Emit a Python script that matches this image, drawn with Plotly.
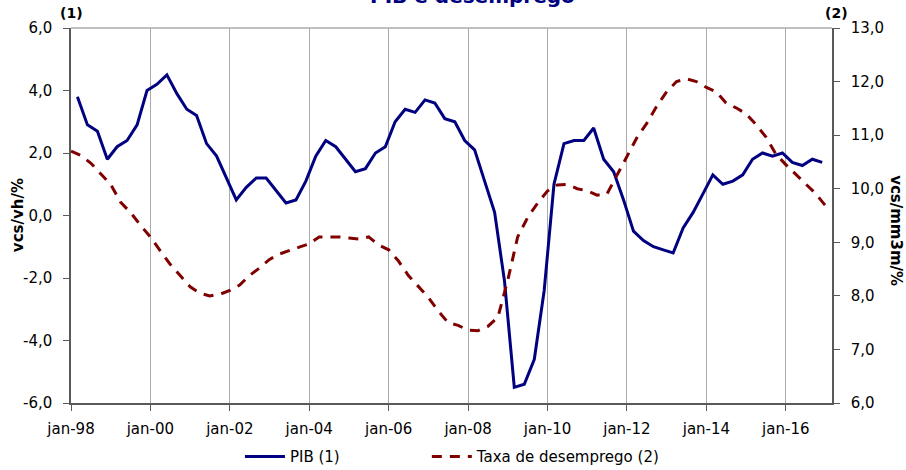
import pandas as pd
import plotly.graph_objects as go

# PIB, quarterly (mar-98 .. dec-16), left axis
pib = [3.8, 2.9, 2.7, 1.8,      # 1998
       2.2, 2.4, 2.9, 4.0,      # 1999
       4.2, 4.5, 3.9, 3.4,      # 2000
       3.2, 2.3, 1.9, 1.2,      # 2001
       0.5, 0.9, 1.2, 1.2,      # 2002
       0.8, 0.4, 0.5, 1.1,      # 2003
       1.9, 2.4, 2.2, 1.8,      # 2004
       1.4, 1.5, 2.0, 2.2,      # 2005
       3.0, 3.4, 3.3, 3.7,      # 2006
       3.6, 3.1, 3.0, 2.4,      # 2007
       2.1, 1.1, 0.1, -2.1,     # 2008
       -5.5, -5.4, -4.6, -2.4,  # 2009
       1.0, 2.3, 2.4, 2.4,      # 2010
       2.8, 1.8, 1.4, 0.5,      # 2011
       -0.5, -0.8, -1.0, -1.1,  # 2012
       -1.2, -0.4, 0.1, 0.7,    # 2013
       1.3, 1.0, 1.1, 1.3,      # 2014
       1.8, 2.0, 1.9, 2.0,      # 2015
       1.7, 1.6, 1.8, 1.7]      # 2016

# Taxa de desemprego (mm3m), read every 3 months (jan-98 .. jan-17), right axis
desemprego = [10.70, 10.62, 10.48, 10.27,   # 1998
              10.08, 9.75, 9.56, 9.32,      # 1999
              9.10, 8.84, 8.59, 8.38,       # 2000
              8.17, 8.05, 8.00, 8.03,       # 2001
              8.10, 8.20, 8.38, 8.52,       # 2002
              8.68, 8.78, 8.85, 8.91,       # 2003
              8.97, 9.10, 9.10, 9.10,       # 2004
              9.08, 9.06, 9.10, 8.95,       # 2005
              8.86, 8.65, 8.38, 8.17,       # 2006
              7.97, 7.72, 7.50, 7.45,       # 2007
              7.36, 7.35, 7.43, 7.60,       # 2008
              8.30, 9.10, 9.46, 9.73,       # 2009
              9.96, 10.07, 10.08, 10.00,    # 2010
              9.96, 9.88, 9.90, 10.25,      # 2011
              10.60, 10.95, 11.22, 11.54,   # 2012
              11.81, 12.00, 12.05, 12.00,   # 2013
              11.89, 11.81, 11.60, 11.51,   # 2014
              11.40, 11.20, 10.97, 10.65,   # 2015
              10.45, 10.27, 10.09, 9.91,    # 2016
              9.68]                         # jan-17

pib_dates = pd.date_range("1998-03-01", periods=len(pib), freq="3MS")
desemp_dates = pd.date_range("1998-01-01", periods=len(desemprego), freq="3MS")

tick_dates = pd.date_range("1998-01-01", "2016-01-01", freq="24MS")
tick_labels = ["jan-98", "jan-00", "jan-02", "jan-04", "jan-06",
               "jan-08", "jan-10", "jan-12", "jan-14", "jan-16"]

left_ticks = [-6, -4, -2, 0, 2, 4, 6]
left_labels = ["-6,0", "-4,0", "-2,0", "0,0", "2,0", "4,0", "6,0"]

FONT = "Tahoma, Verdana, DejaVu Sans, sans-serif"
AXIS = "#595959"
GRID = "#ababab"

fig = go.Figure()
fig.add_trace(go.Scatter(
    x=pib_dates, y=pib, name="PIB (1)", mode="lines",
    line=dict(color="#000080", width=3), legend="legend",
))
fig.add_trace(go.Scatter(
    x=desemp_dates, y=desemprego, name="Taxa de desemprego (2)", mode="lines",
    yaxis="y2", legend="legend2",
    line=dict(color="#800000", width=3, dash="10px,8px"),
))

leg = dict(orientation="h", xanchor="left", y=-0.143, yanchor="middle",
           font=dict(size=15), itemwidth=40, bgcolor="rgba(0,0,0,0)")

fig.update_layout(
    width=906, height=470,
    margin=dict(l=71, r=74, t=28, b=67, autoexpand=False),
    paper_bgcolor="white", plot_bgcolor="white",
    separators=",.",
    font=dict(family=FONT, size=15, color="black"),
    xaxis=dict(
        type="date", range=["1998-01-01", "2017-03-01"],
        tickvals=tick_dates, ticktext=tick_labels,
        showgrid=True, gridcolor=GRID, gridwidth=1,
        showline=True, linecolor=AXIS, linewidth=1.5,
        ticks="outside", ticklen=6, tickcolor=AXIS,
        ticklabelstandoff=5, zeroline=False,
    ),
    yaxis=dict(
        range=[-6, 6], tickvals=left_ticks, ticktext=left_labels,
        showgrid=False, zeroline=False,
        showline=True, linecolor=AXIS, linewidth=1.5,
        ticks="outside", ticklen=6, tickcolor=AXIS,
        ticklabelstandoff=8,
    ),
    yaxis2=dict(
        range=[6, 13], dtick=1, tickformat=".1f",
        overlaying="y", side="right",
        showgrid=False, zeroline=False,
        showline=True, linecolor=AXIS, linewidth=1.5,
        ticks="outside", ticklen=6, tickcolor=AXIS,
        ticklabelstandoff=8,
    ),
    legend=dict(leg, x=0.222),
    legend2=dict(leg, x=0.4676),
    showlegend=True,
)

# top border of the plot area
fig.add_shape(type="line", xref="paper", yref="paper", x0=0, x1=1, y0=1, y1=1,
              line=dict(color=GRID, width=1.5))

# title, cut off by the top edge as in the source image
fig.add_annotation(x=0.527, y=1, xref="paper", yref="paper", yanchor="bottom",
                   yshift=18, text="<b>PIB e desemprego</b>", showarrow=False,
                   font=dict(size=20, color="#000080"))

# axis titles and markers
fig.add_annotation(x=0, y=0.501, xref="paper", yref="paper", xanchor="center",
                   yanchor="middle", xshift=-53,
                   text="<b>vcs/vh/%</b>", textangle=-90, showarrow=False,
                   font=dict(size=15))
fig.add_annotation(x=1, y=0.461, xref="paper", yref="paper", xanchor="center",
                   yanchor="middle", xshift=64,
                   text="<b>vcs/mm3m/%</b>", textangle=90, showarrow=False,
                   font=dict(size=15))
fig.add_annotation(x=0, y=1, xref="paper", yref="paper", xanchor="center",
                   yanchor="middle", xshift=0, yshift=15,
                   text="<b>(1)</b>", showarrow=False, font=dict(size=14))
fig.add_annotation(x=1, y=1, xref="paper", yref="paper", xanchor="center",
                   yanchor="middle", xshift=4, yshift=15,
                   text="<b>(2)</b>", showarrow=False, font=dict(size=14))

fig.write_html("out.html", config={"displayModeBar": False},
               post_script="document.body.style.margin = '0px';")
